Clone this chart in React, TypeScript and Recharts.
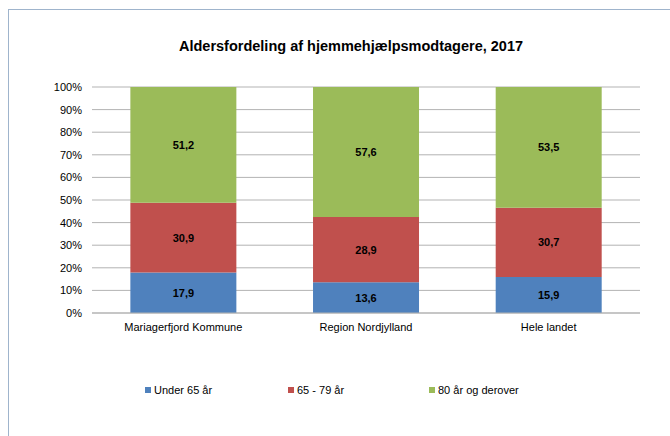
import React from 'react';
import { BarChart, Bar, XAxis, YAxis, CartesianGrid, LabelList, Legend } from 'recharts';

const categories = ['Mariagerfjord Kommune', 'Region Nordjylland', 'Hele landet'];
const under65 = [17.9, 13.6, 15.9];
const age65to79 = [30.9, 28.9, 30.7];
const age80plus = [51.2, 57.6, 53.5];
const yTicks = [0, 0.1, 0.2, 0.3, 0.4, 0.5, 0.6, 0.7, 0.8, 0.9, 1];

const seriesNames = ['Under 65 år', '65 - 79 år', '80 år og derover'];
const seriesKeys = ['u65', 'a6579', 'a80'];
const colors = ['#4f81bd', '#c0504d', '#9bbb59'];

const data = categories.map((c, i) => ({
  name: c,
  u65: under65[i],
  a6579: age65to79[i],
  a80: age80plus[i],
}));

const FONT = '"Liberation Sans", Arial, sans-serif';

const fmt = (v: any) => String(v).replace('.', ',');

const LegendContent = () => (
  <div style={{ position: 'relative', height: 20, width: 670, fontFamily: FONT, fontSize: 11, color: '#000' }}>
    {seriesNames.map((n, i) => (
      <div key={n} style={{ position: 'absolute', left: [145, 288, 429][i], top: 2, display: 'flex', alignItems: 'center', whiteSpace: 'nowrap' }}>
        <span style={{ display: 'inline-block', width: 6, height: 6, background: colors[i], marginRight: 3 }} />
        <span>{n}</span>
      </div>
    ))}
  </div>
);

export default function App() {
  return (
    <div style={{ position: 'absolute', left: 0, top: 0, width: 670, height: 436, background: '#fff', overflow: 'hidden' }}>
      <div style={{ position: 'absolute', left: 8, top: 9, width: 700, height: 500, borderTop: '1px solid #9fb4cc', borderLeft: '1px solid #9fb4cc' }} />
      <div style={{ position: 'absolute', left: 0, width: 700, top: 38, textAlign: 'center', fontFamily: FONT, fontWeight: 'bold', fontSize: 14.5, color: '#000' }}>
        <span style={{ position: 'absolute', left: 351, transform: 'translateX(-50%)', whiteSpace: 'nowrap' }}>Aldersfordeling af hjemmehjælpsmodtagere, 2017</span>
      </div>
      <BarChart
        width={670}
        height={436}
        data={data}
        stackOffset="expand"
        margin={{ top: 87, right: 30, left: 0, bottom: 73 }}
        barCategoryGap="21%"
        style={{ position: 'absolute', left: 0, top: 0, fontFamily: FONT }}
      >
        <CartesianGrid vertical={false} stroke="#b3b3b3" />
        <XAxis
          dataKey="name"
          tickLine={false}
          axisLine={{ stroke: '#b3b3b3' }}
          tick={{ fill: '#000', fontSize: 11 }}
          tickMargin={4}
          height={30}
        />
        <YAxis
          width={92}
          domain={[0, 1]}
          ticks={yTicks}
          tickFormatter={(v: number) => Math.round(v * 100) + '%'}
          axisLine={false}
          tickLine={false}
          tick={{ fill: '#000', fontSize: 11 }}
          tickMargin={4}
          interval={0}
        />
        <Legend
          verticalAlign="bottom"
          height={20}
          content={<LegendContent />}
          wrapperStyle={{ top: 382, left: 0, width: 670 }}
        />
        {seriesKeys.map((k, i) => (
          <Bar key={k} dataKey={k} name={seriesNames[i]} stackId="a" fill={colors[i]} isAnimationActive={false}>
            <LabelList dataKey={k} position="center" formatter={fmt} style={{ fill: '#000', fontSize: 11, fontWeight: 'bold' }} />
          </Bar>
        ))}
      </BarChart>
    </div>
  );
}
